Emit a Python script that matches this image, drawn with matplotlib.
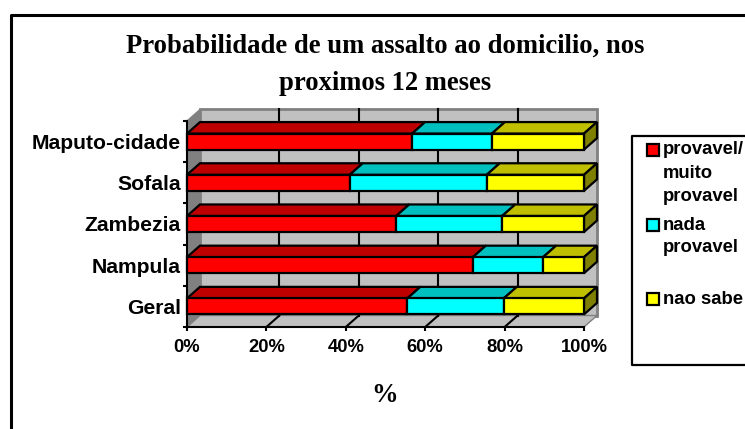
import matplotlib
matplotlib.use("Agg")
import matplotlib.pyplot as plt
from matplotlib.patches import Polygon, Rectangle
from matplotlib.lines import Line2D

categories = ['Geral', 'Nampula', 'Zambezia', 'Sofala', 'Maputo-cidade']
provavel = [55.5, 72.0, 52.7, 41.0, 56.7]
nada = [24.3, 17.7, 26.7, 34.5, 20.1]
nao_sabe = [20.2, 10.3, 20.6, 24.5, 23.2]
series = [provavel, nada, nao_sabe]
legend_labels = ['provavel/\nmuito\nprovavel', 'nada\nprovavel', 'nao sabe']
xticks = [0, 20, 40, 60, 80, 100]

front = ['#FF0000', '#00FFFF', '#FFFF00']
top = ['#BF0000', '#00BFBF', '#BFBF00']
side = '#808000'

W, H = 745, 429
fig = plt.figure(figsize=(W / 100, H / 100), dpi=100)

def fx(x):
    return x / W

def fy(y):
    return 1 - y / H

# outer frame runs off the right and bottom of the picture
fig.add_artist(Line2D([fx(10.5), fx(10.5), fx(W + 5)], [fy(H + 5), fy(14.5), fy(14.5)], color='black', lw=2.2))

left, right, ptop, pbot = 187, 584, 121, 327
ax = fig.add_axes([fx(left), fy(pbot), (right - left) / W, (pbot - ptop) / H])
ax.set_xlim(0, 100)
ax.set_ylim(-0.5, 4.5)
ax.patch.set_visible(False)

# depth of the fake 3D box, in data units
dx = 13 / (right - left) * 100
dy = 11.5 / (pbot - ptop) * 5
y0, y1 = -0.5, 4.5

ax.add_patch(Polygon([(dx, y0 + dy), (100 + dx, y0 + dy), (100 + dx, y1 + dy), (dx, y1 + dy)],
                     fc='#C0C0C0', ec='#808080', lw=2, zorder=1, clip_on=False))
ax.add_patch(Polygon([(0, y0), (dx, y0 + dy), (dx, y1 + dy), (0, y1)],
                     fc='#808080', ec='#808080', lw=1, zorder=1, clip_on=False))
ax.add_patch(Polygon([(0, y0), (100, y0), (100 + dx, y0 + dy), (dx, y0 + dy)],
                     fc='#C0C0C0', ec='#808080', lw=1, zorder=1, clip_on=False))

for t in xticks[1:-1]:
    ax.plot([t + dx, t + dx], [y0 + dy, y1 + dy], color='black', lw=1.5, zorder=2, clip_on=False)
    ax.plot([t, t + dx], [y0, y0 + dy], color='black', lw=1.5, zorder=2, clip_on=False)

height = 0.39
for i, cat in enumerate(categories):
    start = 0
    for s, vals in enumerate(series):
        v = vals[i]
        z = 3 + i * 0.1
        ax.barh(i, v, height, left=start, color=front[s], edgecolor='black', lw=1.6, zorder=z + 0.05, clip_on=False)
        ax.add_patch(Polygon([(start, i + height / 2), (start + v, i + height / 2),
                              (start + v + dx, i + height / 2 + dy), (start + dx, i + height / 2 + dy)],
                             fc=top[s], ec='black', lw=1.6, zorder=z, clip_on=False, joinstyle='miter'))
        start += v
    ax.add_patch(Polygon([(start, i - height / 2), (start + dx, i - height / 2 + dy),
                          (start + dx, i + height / 2 + dy), (start, i + height / 2)],
                         fc=side, ec='black', lw=1.6, zorder=3 + i * 0.1, clip_on=False))

for name in ['top', 'right']:
    ax.spines[name].set_visible(False)
for name in ['left', 'bottom']:
    ax.spines[name].set_linewidth(1.5)
    ax.spines[name].set_zorder(6)

ax.set_xticks(xticks)
ax.set_xticklabels([str(t) + '%' for t in xticks], fontfamily='Liberation Sans', fontweight='bold', fontsize=13.2)
ax.set_yticks(range(len(categories)))
ax.set_yticklabels(categories, fontfamily='Liberation Sans', fontweight='bold', fontsize=15.2, va='center_baseline')
ax.set_yticks([y0 + k for k in range(6)], minor=True)
ax.tick_params(axis='y', which='major', length=0, pad=4.5)
ax.tick_params(axis='y', which='minor', length=3, width=1.5)
ax.tick_params(axis='x', length=3, width=1.5, pad=6)

fig.text(fx(385), fy(46), 'Probabilidade de um assalto ao domicilio, nos', ha='center', va='center',
         fontfamily='Liberation Serif', fontweight='bold', fontsize=19.2)
fig.text(fx(385), fy(83), 'proximos 12 meses', ha='center', va='center',
         fontfamily='Liberation Serif', fontweight='bold', fontsize=19.2)
fig.text(fx(385), fy(395), '%', ha='center', va='center',
         fontfamily='Liberation Serif', fontweight='bold', fontsize=19.2)

# legend box, cut off by the right edge like the original
fig.add_artist(Line2D([fx(W + 5), fx(631.5), fx(631.5), fx(W + 5)], [fy(135.5), fy(135.5), fy(365), fy(365)],
                      color='black', lw=1.6))
leg_y = [150, 225, 299]
line_h = 23
for s, label in enumerate(legend_labels):
    fig.add_artist(Rectangle((fx(647), fy(leg_y[s] + 6)), 12 / W, 12 / H, transform=fig.transFigure,
                             fc=front[s], ec='black', lw=1.6))
    for k, part in enumerate(label.split('\n')):
        fig.text(fx(663), fy(leg_y[s] + k * line_h), part, ha='left', va='center',
                 fontfamily='Liberation Sans', fontweight='bold', fontsize=13.3)

fig.savefig('out.png', dpi=100)
